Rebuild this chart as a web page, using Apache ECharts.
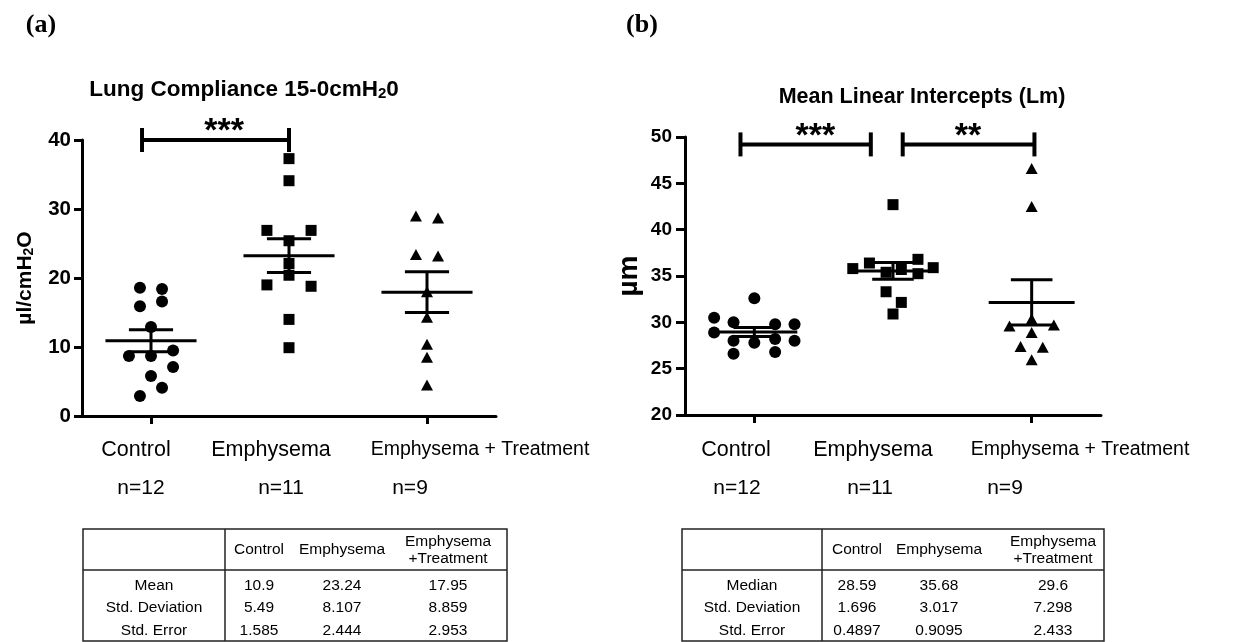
<!DOCTYPE html>
<html><head><meta charset="utf-8">
<script src="https://cdn.jsdelivr.net/npm/echarts@6/dist/echarts.min.js"></script>
<style>html,body{margin:0;padding:0;background:#fff}#c{width:1239px;height:642px}</style>
</head><body><div id="c"></div>
<script>
// ---------------- DATA ----------------
const categories = ['Control', 'Emphysema', 'Emphysema + Treatment'];
const groupSizes = ['n=12', 'n=11', 'n=9'];

// Panel (a): Lung Compliance, [jitter within group, value]
const controlA = [[-0.08,18.6],[0.08,18.4],[-0.08,15.9],[0.08,16.6],[0,12.9],[-0.16,8.7],[0,8.7],[0.16,9.5],[0.16,7.1],[0,5.8],[0.08,4.1],[-0.08,2.9]];
const emphysemaA = [[0,37.3],[0,34.1],[-0.16,26.9],[0.16,26.9],[0,25.4],[0,22.1],[0,20.4],[-0.16,19.0],[0.16,18.8],[0,14.0],[0,9.9]];
const treatmentA = [[-0.08,29.0],[0.08,28.7],[-0.08,23.4],[0.08,23.2],[0,18.0],[0,14.3],[0,10.4],[0,8.5],[0,4.5]];
const meanA = [10.9, 23.24, 17.95];
const semA = [1.585, 2.444, 2.953];
// [from, to, y, label, label x]
const bracketsA = [[0.435, 1.5, 40, '***', 1.03]];

// Panel (b): Mean Linear Intercepts
const controlB = [[-0.29,30.5],[0,32.6],[-0.15,30.0],[0.15,29.8],[0.29,29.8],[-0.29,28.9],[-0.15,28.0],[0,27.8],[0.15,28.2],[0.29,28.0],[-0.15,26.6],[0.15,26.8]];
const emphysemaB = [[-0.29,35.8],[-0.17,36.4],[0,42.7],[0.18,36.8],[0.29,35.9],[-0.05,35.4],[0.06,35.7],[0.18,35.25],[-0.05,33.3],[0.06,32.15],[0,30.9]];
const treatmentB = [[0,46.6],[0,42.5],[0,30.35],[-0.16,29.6],[0.16,29.7],[0,28.9],[-0.08,27.4],[0.08,27.3],[0,25.95]];
const meanB = [28.95, 35.55, 32.15];
const semB = [0.4897, 0.9095, 2.433];
const bracketsB = [[0.40, 1.34, 49.2, '***', 0.94], [1.57, 2.52, 49.2, '**', 2.04]];

// Tables
const tableHeader = ['', 'Control', 'Emphysema', 'Emphysema\n+Treatment'];
const tableRowsA = [
  ['Mean', '10.9', '23.24', '17.95'],
  ['Std. Deviation', '5.49', '8.107', '8.859'],
  ['Std. Error', '1.585', '2.444', '2.953']
];
const tableRowsB = [
  ['Median', '28.59', '35.68', '29.6'],
  ['Std. Deviation', '1.696', '3.017', '7.298'],
  ['Std. Error', '0.4897', '0.9095', '2.433']
];

// ---------------- LAYOUT ----------------
const FONT = '"Liberation Sans", Arial, sans-serif';
const chart = echarts.init(document.getElementById('c'), null, {renderer: 'canvas'});

function scatterSeries(arr, groupIdx, xAxisIndex, yAxisIndex, symbol, size) {
  return {
    type: 'scatter', xAxisIndex, yAxisIndex, symbol, symbolSize: size,
    itemStyle: {color: '#000', opacity: 1},
    silent: true, z: 3,
    data: arr.map(d => [groupIdx + 0.5 + d[0], d[1]])
  };
}

function meanSeries(means, sems, xAxisIndex, yAxisIndex, halfMean, halfCap) {
  return {
    type: 'custom', xAxisIndex, yAxisIndex, silent: true, z: 4,
    data: means.map((m, i) => [i + 0.5, m, sems[i]]),
    renderItem: function (params, api) {
      const cx = api.value(0), m = api.value(1), s = api.value(2);
      const pm = api.coord([cx, m]);
      const pt = api.coord([cx, m + s]);
      const pb = api.coord([cx, m - s]);
      const hm = api.size([halfMean, 0])[0];
      const hc = api.size([halfCap, 0])[0];
      const st = {stroke: '#000', lineWidth: 3};
      return {type: 'group', children: [
        {type: 'line', shape: {x1: pm[0] - hm, y1: pm[1], x2: pm[0] + hm, y2: pm[1]}, style: st},
        {type: 'line', shape: {x1: pt[0] - hc, y1: pt[1], x2: pt[0] + hc, y2: pt[1]}, style: st},
        {type: 'line', shape: {x1: pb[0] - hc, y1: pb[1], x2: pb[0] + hc, y2: pb[1]}, style: st},
        {type: 'line', shape: {x1: pt[0], y1: pt[1], x2: pb[0], y2: pb[1]}, style: st}
      ]};
    }
  };
}

function bracketSeries(brackets, xAxisIndex, yAxisIndex) {
  return {
    type: 'custom', xAxisIndex, yAxisIndex, silent: true, z: 5, clip: false,
    data: brackets.map(b => [b[0], b[1], b[2], b[4]]),
    renderItem: function (params, api) {
      const p1 = api.coord([api.value(0), api.value(2)]);
      const p2 = api.coord([api.value(1), api.value(2)]);
      const pl = api.coord([api.value(3), api.value(2)]);
      const st = {stroke: '#000', lineWidth: 4};
      const label = brackets[params.dataIndex][3];
      return {type: 'group', children: [
        {type: 'line', shape: {x1: p1[0], y1: p1[1], x2: p2[0], y2: p2[1]}, style: st},
        {type: 'line', shape: {x1: p1[0], y1: p1[1] - 12, x2: p1[0], y2: p1[1] + 12}, style: st},
        {type: 'line', shape: {x1: p2[0], y1: p2[1] - 12, x2: p2[0], y2: p2[1] + 12}, style: st},
        {type: 'text', x: pl[0], y: pl[1] - 8,
          style: {text: label, fontSize: 34, fontWeight: 'bold', fontFamily: FONT, fill: '#000', align: 'center', verticalAlign: 'middle'}}
      ]};
    }
  };
}

function catAxis(gridIndex) {
  return {
    type: 'category', gridIndex, data: categories, boundaryGap: true,
    axisLine: {show: true, lineStyle: {color: '#000', width: 3}},
    axisTick: {show: true, alignWithLabel: true, length: 8, lineStyle: {color: '#000', width: 3}},
    axisLabel: {show: false}, splitLine: {show: false}
  };
}
function hiddenX(gridIndex) {
  return {type: 'value', gridIndex, min: 0, max: 3, show: false};
}
const subRich = {
  a: {fontSize: 21, fontWeight: 'bold', fontFamily: FONT, color: '#000'},
  s: {fontSize: 14, fontWeight: 'bold', fontFamily: FONT, color: '#000', padding: [7, 0, 0, 0]}
};
function valAxis(gridIndex, min, max, interval, name, nameGap, nameSize, margin, tickLen, labelSize) {
  return {
    type: 'value', gridIndex, min, max, interval,
    axisLine: {show: true, lineStyle: {color: '#000', width: 3}},
    axisTick: {show: true, length: tickLen, lineStyle: {color: '#000', width: 3}},
    axisLabel: {fontSize: labelSize, fontWeight: 'bold', color: '#000', fontFamily: FONT, margin},
    splitLine: {show: false},
    name, nameLocation: 'middle', nameGap, nameRotate: 90,
    nameTextStyle: {fontSize: nameSize, fontWeight: 'bold', color: '#000', fontFamily: FONT, rich: subRich}
  };
}

const option = {
  backgroundColor: '#fff',
  animation: false,
  grid: [
    {left: 82, top: 140, width: 414, height: 276},
    {left: 685, top: 137, width: 416, height: 278}
  ],
  xAxis: [catAxis(0), hiddenX(0), catAxis(1), hiddenX(1)],
  yAxis: [
    valAxis(0, 0, 40, 10, '{a|µl/cmH}{s|2}{a|O}', 46, 21, 11, 8, 20.5),
    valAxis(1, 20, 50, 5, 'µm', 42, 28, 13, 9, 19)
  ],
  series: [
    scatterSeries(controlA, 0, 1, 0, 'circle', 12),
    scatterSeries(emphysemaA, 1, 1, 0, 'rect', 11),
    scatterSeries(treatmentA, 2, 1, 0, 'triangle', [12, 11]),
    meanSeries(meanA, semA, 1, 0, 0.33, 0.16),
    bracketSeries(bracketsA, 1, 0),
    scatterSeries(controlB, 0, 3, 1, 'circle', 12),
    scatterSeries(emphysemaB, 1, 3, 1, 'rect', 11),
    scatterSeries(treatmentB, 2, 3, 1, 'triangle', [12, 11]),
    meanSeries(meanB, semB, 3, 1, 0.31, 0.15),
    bracketSeries(bracketsB, 3, 1)
  ]
};
chart.setOption(option);

// ---------- text annotations & tables ----------
const g = [];
function txt(x, y, text, size, extra) {
  g.push({type: 'text', x, y, silent: true,
    style: Object.assign({text, fontSize: size, fontFamily: FONT, fill: '#000', align: 'center', verticalAlign: 'middle'}, extra || {})});
}
// panel letters
txt(41, 25, '(a)', 26, {fontFamily: '"Liberation Serif", "Times New Roman", serif', fontWeight: 'bold'});
txt(642, 25, '(b)', 26, {fontFamily: '"Liberation Serif", "Times New Roman", serif', fontWeight: 'bold'});
// titles
g.push({type: 'text', x: 244, y: 90, silent: true, style: {
  text: '{a|Lung Compliance 15-0cmH}{s|2}{a|0}', align: 'center', verticalAlign: 'middle',
  rich: {a: {fontSize: 22.5, fontWeight: 'bold', fontFamily: FONT, fill: '#000'}, s: {fontSize: 15, fontWeight: 'bold', fontFamily: FONT, fill: '#000', padding: [8, 0, 0, 0]}}
}});
txt(922, 97, 'Mean Linear Intercepts (Lm)', 21.5, {fontWeight: 'bold'});

// category labels
const labelCentersA = [136, 271, 480], nCentersA = [141, 281, 410];
const labelCentersB = [736, 873, 1080], nCentersB = [737, 870, 1005];
const labelSizes = [21.5, 21.5, 19.5];
categories.forEach((c, i) => {
  txt(labelCentersA[i], 450, c, labelSizes[i]);
  txt(labelCentersB[i], 450, c, labelSizes[i]);
  txt(nCentersA[i], 488, groupSizes[i], 21);
  txt(nCentersB[i], 488, groupSizes[i], 21);
});

// tables
function table(x0, xSep, x1, colCenters, rows) {
  const top = 529, sep = 570, bottom = 641;
  const st = {stroke: '#222', lineWidth: 1.5, fill: null};
  g.push({type: 'rect', silent: true, shape: {x: x0, y: top, width: x1 - x0, height: bottom - top}, style: st});
  g.push({type: 'line', silent: true, shape: {x1: x0, y1: sep, x2: x1, y2: sep}, style: st});
  g.push({type: 'line', silent: true, shape: {x1: xSep, y1: top, x2: xSep, y2: bottom}, style: st});
  const centers = [(x0 + xSep) / 2].concat(colCenters);
  tableHeader.forEach((h, j) => { if (h) txt(centers[j], 550, h, 15.5, {lineHeight: 17}); });
  const rowY = [586, 608, 631];
  rows.forEach((r, i) => r.forEach((v, j) => txt(centers[j], rowY[i], v, 15.5)));
}
table(83, 225, 507, [259, 342, 448], tableRowsA);
table(682, 822, 1104, [857, 939, 1053], tableRowsB);

chart.setOption({graphic: g});
</script>
</body></html>
